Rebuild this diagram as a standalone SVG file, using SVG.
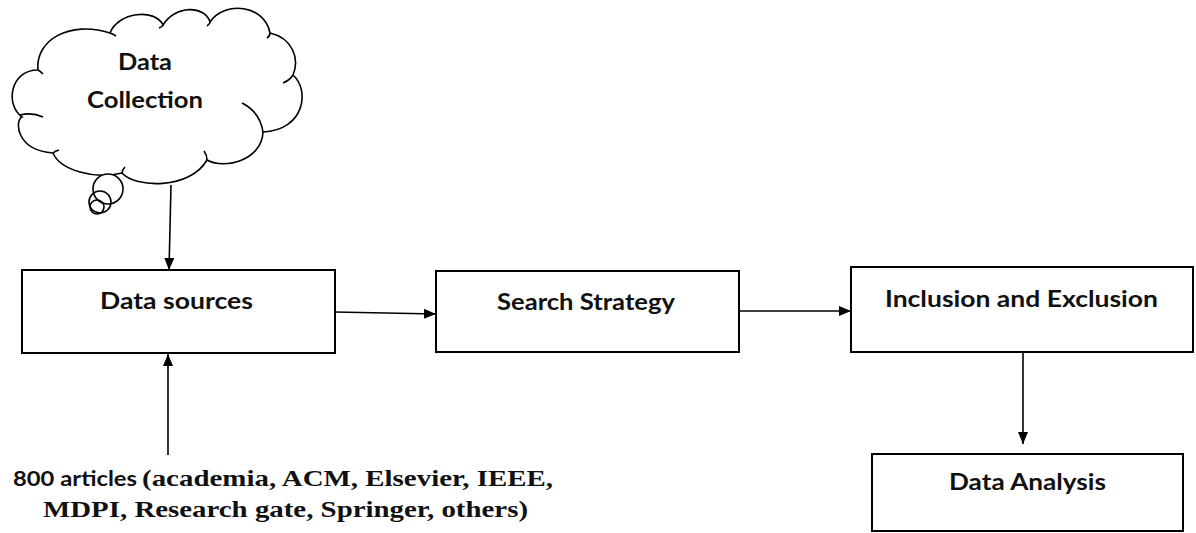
<svg xmlns="http://www.w3.org/2000/svg" width="1196" height="533" viewBox="0 0 1196 533">
<style>
.box{fill:#fff;stroke:#000;stroke-width:2}
.cl{fill:#fff;stroke:#000;stroke-width:1.6}
.hk{fill:none;stroke:#000;stroke-width:1.6}
.lbl{font-family:Lato,"Open Sans",sans-serif;font-weight:bold;font-size:22px;fill:#111;text-anchor:middle}
.ser{font-family:"Liberation Serif","Times New Roman",serif;font-weight:bold;font-size:23px;fill:#111}
.san{font-family:Lato,"Open Sans",sans-serif;font-weight:bold;font-size:20px;fill:#111}
.con{stroke:#000;stroke-width:1.6;fill:none;marker-end:url(#ah)}
</style>
<defs>
<marker id="ah" viewBox="0 0 12 10" refX="12" refY="5" markerWidth="12" markerHeight="10" markerUnits="userSpaceOnUse" orient="auto">
<path d="M0,0 L12,5 L0,10 Z" fill="#000"/>
</marker>
</defs>
<rect width="1196" height="533" fill="#fff"/>
<g id="data-collection">
<path class="cl" d="M38,70 C35,40 70,20 110,33 C118,12 155,8 163,25 C175,5 205,5 210,22 C225,0 265,5 270,33 C292,38 300,58 293,75 C310,90 305,130 263,132 C262,160 225,170 207,160 C190,190 135,188 122,173 C95,180 60,170 53,153 C15,150 15,120 22,117 C5,105 10,70 38,70 Z"/>
<path class="hk" d="M20,115 Q32,112 43,117 M53,153 Q55,151 59,150 M122,173 Q122,170 125,167 M207,160 Q207,155 204,151 M242,103 Q260,112 263,132 M293,75 Q290,80 283,83 M270,33 Q270,36 267,38 M210,22 Q210,24 207,26 M163,25 Q162,27 159,28 M110,33 Q113,34 116,36 M38,70 Q40,71 43,74"/>
<circle class="cl" cx="108" cy="189" r="15"/>
<circle class="hk" cx="100" cy="202" r="11"/>
<circle class="hk" cx="97" cy="207" r="7"/>
<text class="lbl" x="145" y="70" textLength="54" lengthAdjust="spacingAndGlyphs">Data</text>
<text class="lbl" x="145" y="108" textLength="116" lengthAdjust="spacingAndGlyphs">Collection</text>
</g>
<g id="data-sources">
<rect class="box" x="22" y="270" width="313" height="83"/>
<text class="lbl" x="176.5" y="309" textLength="153" lengthAdjust="spacingAndGlyphs">Data sources</text>
</g>
<g id="search-strategy">
<rect class="box" x="436" y="271" width="303" height="81"/>
<text class="lbl" x="586" y="310" textLength="178" lengthAdjust="spacingAndGlyphs">Search Strategy</text>
</g>
<g id="inclusion-exclusion">
<rect class="box" x="851" y="267" width="342" height="85"/>
<text class="lbl" x="1021.5" y="307" textLength="273" lengthAdjust="spacingAndGlyphs">Inclusion and Exclusion</text>
</g>
<g id="data-analysis">
<rect class="box" x="872" y="454" width="311" height="77"/>
<text class="lbl" x="1027.5" y="490" textLength="157" lengthAdjust="spacingAndGlyphs">Data Analysis</text>
</g>
<g id="articles">
<text class="san" x="13" y="486" textLength="124" lengthAdjust="spacingAndGlyphs">800 articles</text>
<text class="ser" x="142" y="486" textLength="411" lengthAdjust="spacingAndGlyphs">(academia, ACM, Elsevier, IEEE,</text>
<text class="ser" x="43" y="517" textLength="485" lengthAdjust="spacingAndGlyphs">MDPI, Research gate, Springer, others)</text>
</g>
<g id="connectors">
<line class="con" x1="171" y1="185" x2="169" y2="270"/>
<line class="con" x1="168" y1="455" x2="168" y2="354"/>
<line class="con" x1="335" y1="312" x2="436" y2="314"/>
<line class="con" x1="739" y1="311" x2="851" y2="311"/>
<line class="con" x1="1023" y1="352" x2="1023" y2="444"/>
</g>
</svg>
